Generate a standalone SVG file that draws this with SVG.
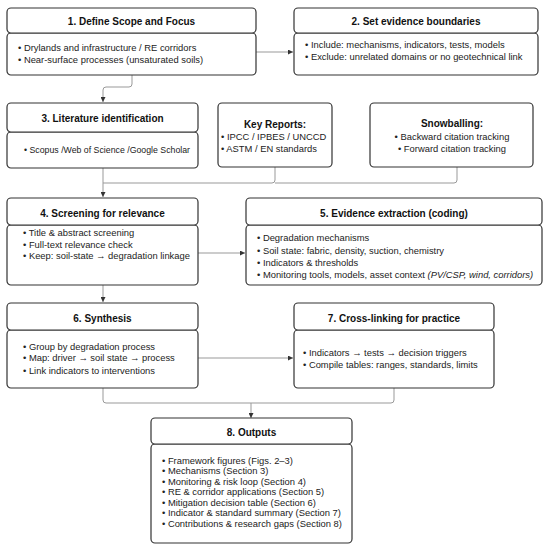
<svg xmlns="http://www.w3.org/2000/svg" width="550" height="551" viewBox="0 0 550 551">
<defs>
<marker id="ah" viewBox="0 0 10 10" refX="10" refY="5" markerWidth="5" markerHeight="5" orient="auto" markerUnits="userSpaceOnUse">
<path d="M0,0 L10,5 L0,10 z" fill="#333"/>
</marker>
<style>
.box{fill:#fff;stroke:#333;stroke-width:1.2}
.hd{font-family:"Liberation Sans",Arial,sans-serif;font-weight:bold;font-size:10px;fill:#111;text-anchor:middle}
.tx{font-family:"Liberation Sans",Arial,sans-serif;font-size:9.4px;fill:#222}
.ct{text-anchor:middle}
.cn{fill:none;stroke:#999;stroke-width:1}
.ar{marker-end:url(#ah)}
</style>
</defs>
<rect width="550" height="551" fill="#fff"/>
<g id="connectors">
<path class="cn ar" d="M256,52 H293"/>
<path class="cn ar" d="M132,75 V84 Q132,87 129,87 H106 Q103,87 103,90 V102"/>
<path class="cn ar" d="M103,168 V197"/>
<path class="cn" d="M275,167 V180 Q275,183 272,183 H103"/>
<path class="cn" d="M457,167 V180 Q457,183 454,183 H275"/>
<path class="cn ar" d="M198,253 H245"/>
<path class="cn ar" d="M103,285 V302"/>
<path class="cn ar" d="M198,358 H293"/>
<path class="cn" d="M103,388 V400 Q103,403 106,403 H391 Q394,403 394,400 V388"/>
<path class="cn ar" d="M251,403 V418"/>
</g>
<g id="n1">
<rect class="box" x="7" y="33" width="249" height="42" rx="4"/>
<rect class="box" x="7" y="8" width="249" height="25" rx="4"/>
<text class="hd" x="131.5" y="25">1. Define Scope and Focus</text>
<text class="tx" x="18" y="51">• Drylands and infrastructure / RE corridors</text>
<text class="tx" x="18" y="63">• Near-surface processes (unsaturated soils)</text>
</g>
<g id="n2">
<rect class="box" x="294" y="33" width="244" height="42" rx="4"/>
<rect class="box" x="294" y="8" width="244" height="25" rx="4"/>
<text class="hd" x="416" y="25">2. Set evidence boundaries</text>
<text class="tx" x="305" y="48">• Include: mechanisms, indicators, tests, models</text>
<text class="tx" x="305" y="60">• Exclude: unrelated domains or no geotechnical link</text>
</g>
<g id="n3">
<rect class="box" x="7" y="132" width="191" height="36" rx="4"/>
<rect class="box" x="7" y="103" width="191" height="29" rx="4"/>
<text class="hd" x="102.5" y="122">3. Literature identification</text>
<text class="tx" x="24" y="153" textLength="166" lengthAdjust="spacingAndGlyphs">• Scopus /Web of Science /Google Scholar</text>
</g>
<g id="n-key">
<rect class="box" x="218" y="103" width="114" height="64" rx="4"/>
<text class="hd" x="275" y="128">Key Reports:</text>
<text class="tx" x="221" y="140">• IPCC / IPBES / UNCCD</text>
<text class="tx" x="221" y="152">• ASTM / EN standards</text>
</g>
<g id="n-snow">
<rect class="box" x="370" y="103" width="163" height="64" rx="4"/>
<text class="hd" x="452" y="127">Snowballing:</text>
<text class="tx ct" x="452" y="140">• Backward citation tracking</text>
<text class="tx ct" x="452" y="152">• Forward citation tracking</text>
</g>
<g id="n4">
<rect class="box" x="7" y="225" width="191" height="60" rx="4"/>
<rect class="box" x="7" y="198" width="191" height="27" rx="4"/>
<text class="hd" x="102.5" y="217">4. Screening for relevance</text>
<text class="tx" x="23" y="236">• Title &amp; abstract screening</text>
<text class="tx" x="23" y="248">• Full-text relevance check</text>
<text class="tx" x="23" y="259">• Keep: soil-state → degradation linkage</text>
</g>
<g id="n5">
<rect class="box" x="246" y="225" width="296" height="60" rx="4"/>
<rect class="box" x="246" y="198" width="296" height="27" rx="4"/>
<text class="hd" x="394" y="217">5. Evidence extraction (coding)</text>
<text class="tx" x="257" y="241">• Degradation mechanisms</text>
<text class="tx" x="257" y="254">• Soil state: fabric, density, suction, chemistry</text>
<text class="tx" x="257" y="266">• Indicators &amp; thresholds</text>
<text class="tx" x="257" y="278">• Monitoring tools, models, asset context <tspan font-style="italic">(PV/CSP, wind, corridors)</tspan></text>
</g>
<g id="n6">
<rect class="box" x="7" y="330" width="191" height="58" rx="4"/>
<rect class="box" x="7" y="303" width="191" height="27" rx="4"/>
<text class="hd" x="102.5" y="322">6. Synthesis</text>
<text class="tx" x="23" y="350">• Group by degradation process</text>
<text class="tx" x="23" y="361">• Map: driver → soil state → process</text>
<text class="tx" x="23" y="374">• Link indicators to interventions</text>
</g>
<g id="n7">
<rect class="box" x="294" y="330" width="200" height="58" rx="4"/>
<rect class="box" x="294" y="303" width="200" height="27" rx="4"/>
<text class="hd" x="394" y="322">7. Cross-linking for practice</text>
<text class="tx" x="303" y="356">• Indicators → tests → decision triggers</text>
<text class="tx" x="303" y="368">• Compile tables: ranges, standards, limits</text>
</g>
<g id="n8">
<rect class="box" x="151" y="444" width="201" height="99" rx="4"/>
<rect class="box" x="151" y="418" width="201" height="26" rx="4"/>
<text class="hd" x="251.5" y="436">8. Outputs</text>
<text class="tx" x="162" y="464">• Framework figures (Figs. 2–3)</text>
<text class="tx" x="162" y="474">• Mechanisms (Section 3)</text>
<text class="tx" x="162" y="484.5">• Monitoring &amp; risk loop (Section 4)</text>
<text class="tx" x="162" y="495">• RE &amp; corridor applications (Section 5)</text>
<text class="tx" x="162" y="505.5">• Mitigation decision table (Section 6)</text>
<text class="tx" x="162" y="516">• Indicator &amp; standard summary (Section 7)</text>
<text class="tx" x="162" y="526.5">• Contributions &amp; research gaps (Section 8)</text>
</g>
</svg>
